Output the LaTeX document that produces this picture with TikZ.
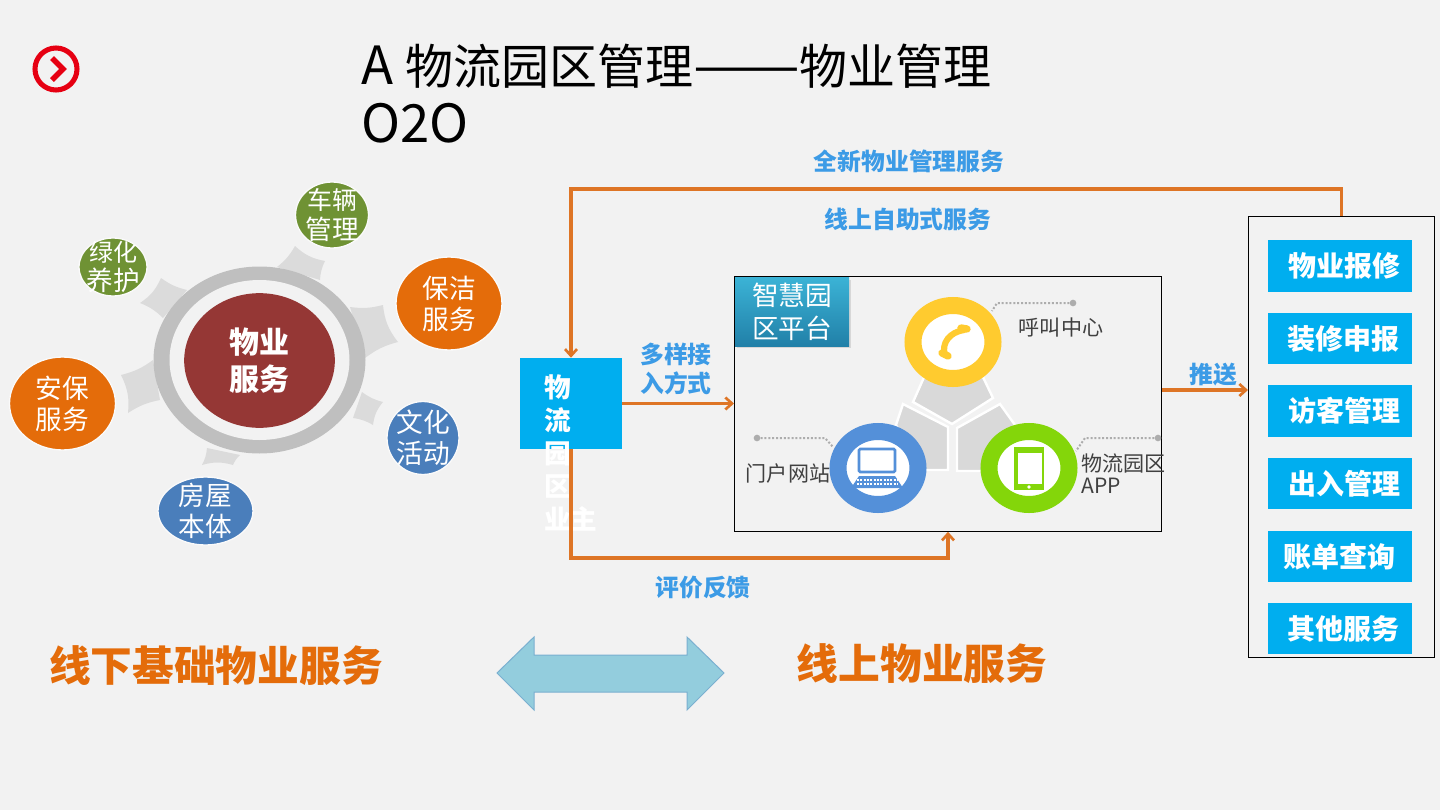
\documentclass[tikz,border=0pt]{standalone}
\usepackage{fontspec}
\setmainfont{Noto Sans CJK SC}
\usepackage{tikz}
\usetikzlibrary{calc}
\usetikzlibrary{shapes.geometric}
\usetikzlibrary{arrows.meta}
\definecolor{pagegray}{HTML}{F2F2F2}
\definecolor{flowline}{HTML}{DE7526}
\definecolor{flowtext}{HTML}{3C9BE6}
\definecolor{skyblue}{HTML}{00AEEF}
\definecolor{wine}{HTML}{953735}
\definecolor{leaf}{HTML}{6F9234}
\definecolor{pumpkin}{HTML}{E46C0A}
\definecolor{steel}{HTML}{4A7EBB}
\definecolor{callring}{HTML}{FFCB2F}
\definecolor{webring}{HTML}{5490D9}
\definecolor{appring}{HTML}{84D60A}
\definecolor{markred}{HTML}{E60012}
\definecolor{tagtop}{HTML}{3BB3D6}
\definecolor{tagbot}{HTML}{2180A8}
\definecolor{bandfill}{HTML}{93CDDD}
\definecolor{bandline}{HTML}{7AAFD0}
\newcommand\pxfont[1]{\fontsize{#1}{#1}\selectfont\baselineskip=1.24\baselineskip}
\newcommand\titlewide{\fontsize{39.5}{43.5}\selectfont}
\newcommand\spoke[4]{
    \fill[spoke] (#1) to[bend right=11] (#2) to[bend right=16] (#3) to[bend right=11] (#4) -- cycle;
}
\newcommand\bubble[7]{
    \node[bubbleshape, fill=#4, minimum width=#5*0.75pt, minimum height=#6*0.75pt] (#1) at (#2,#3) {};
    \node[bubbletext] (#1text) at (#1) {#7};
}
\newcommand\iconring[4]{
    \node[ringshape, draw=#4] (#1) at (#2,#3) {};
}
\begin{document}
\begin{tikzpicture}[
        x=0.75pt, y=-0.75pt,
        spoke/.style={fill=black!14},
        bubbleshape/.style={ellipse, inner sep=0pt, draw=white!60!pagegray, line width=1pt},
        bubbletext/.style={text=white, align=center, inner sep=0pt, font=\fontsize{20}{23.4}\selectfont},
        ringshape/.style={ellipse, fill=white, line width=12.75pt,
            minimum width=60pt, minimum height=54.75pt, inner sep=0pt},
        flow/.style={draw=flowline, line width=2.4pt, line join=miter, -{Straight Barb[length=5pt,width=9pt,line width=2pt]}},
        flowlabel/.style={text=flowtext, font=\pxfont{17.85}\bfseries, align=center, inner sep=0pt},
        frame/.style={draw=black, line width=0.75pt, fill=none, inner sep=0pt},
        svcitem/.style={fill=skyblue, minimum width=108pt, minimum height=38.5pt, inner sep=0pt},
        svctext/.style={text=white, font=\pxfont{21}\bfseries, inner sep=0pt},
        petal/.style={fill=black!15, draw=white, line width=1.8pt},
        leader/.style={draw=black!32, line width=1.5pt, dash pattern=on 1.5pt off 1.4pt},
        leaddot/.style={circle, fill=black!32, minimum size=5pt, inner sep=0pt},
        darklabel/.style={text=black!75, font=\pxfont{15.8}, align=left, inner sep=0pt},
        bigtext/.style={text=pumpkin, font=\pxfont{31.3}\bfseries, inner sep=0pt}
    ]
    \useasboundingbox (0,0) rectangle (1440,810);
    \fill[pagegray] (0,0) rectangle (1440,810);

    % title
    \draw[markred, line width=3.8pt] (56,69) ellipse (21 and 21);
    \draw[markred, line width=4pt] (52,58) -- (63,69) -- (52,80);
    \node[anchor=north west, inner sep=0pt, align=left, font=\fontsize{36}{43.5}\selectfont] (title) at (361,44)
        {{\titlewide A }物流园区管理\scalebox{1.21}[1]{\titlewide ——}物业管理\\{\titlewide O2O}};

    % offline wheel
    \spoke{277,267}{295,246}{325,261}{320,280}
    \spoke{350,307}{383,305}{398,342}{365,358}
    \spoke{362,392}{383,402}{373,425}{353,418}
    \spoke{240,455}{233,465}{202,465}{207,448}
    \spoke{160,400}{128,413}{121,375}{153,360}
    \spoke{163,318}{140,303}{161,278}{187,290}
    \fill[black!25] (259.5,360) ellipse (106 and 93.5);
    \fill[pagegray] (259.5,360) ellipse (90 and 80);
    \node[ellipse, fill=wine, minimum width=113pt, minimum height=101pt, inner sep=0pt,
        text=white, align=center, font=\pxfont{22.5}\bfseries] (core) at (259.5,360.5) {物业\\服务};
    \bubble{parking}{332}{215}{leaf}{73}{66}{\fontsize{18.7}{22.5}\selectfont 车辆\\[-1pt]管理}
    \bubble{greening}{113}{267}{leaf}{68}{58}{\fontsize{18}{22.5}\selectfont 绿化\\[-1pt]养护}
    \bubble{cleaning}{449}{303.5}{pumpkin}{106}{93}{保洁\\服务}
    \bubble{security}{62.5}{403.5}{pumpkin}{106}{93}{安保\\服务}
    \bubble{culture}{423}{438}{steel}{72}{73}{文化\\活动}
    \bubble{housing}{205.5}{511}{steel}{95}{68}{房屋\\本体}

    % online platform
    \node[frame, minimum width=320.25pt, minimum height=191.25pt] (platform) at (948,403.75) {};
    \node[frame, minimum width=139.5pt, minimum height=331pt] (svcbox) at (1341.5,437.25) {};
    \fill[black!40, opacity=0.3] (737,280) rectangle (851,348);
    \node[top color=tagtop, bottom color=tagbot, minimum width=85.5pt, minimum height=51.75pt,
        inner sep=0pt, text=white, align=center, font=\pxfont{20}] (tag) at (792,311.5) {智慧园\\区平台};

    \draw[petal] (913,402) -- (952,424) -- (993,398) -- (982,375) -- (925,375) -- cycle;
    \draw[petal] (903,404) -- (948,427) -- (948,470) -- (920,470) -- (896,425) -- cycle;
    \draw[petal] (1000,404) -- (957,428) -- (957,471) -- (985,471) -- (1015,425) -- cycle;

    \node[leaddot] (dotcall) at (1073,303) {};
    \node[leaddot] (dotweb) at (757,438) {};
    \node[leaddot] (dotapp) at (1158,438) {};
    \draw[leader] (dotcall) -- (997,303) -- (992,311);
    \draw[leader] (dotweb) -- (825,438) -- (833,447);
    \draw[leader] (dotapp) -- (1085,438) -- (1076,451);
    \iconring{ringcall}{953}{342}{callring}
    \iconring{ringweb}{878}{468}{webring}
    \iconring{ringapp}{1029}{468}{appring}

    % phone
    \draw[callring, line width=4.6pt, line cap=round] (964,330) .. controls (950,332) and (941,343) .. (945,355);
    \draw[callring, line width=5.5pt, line cap=round] (961,328) -- (967,329);
    \draw[callring, line width=5.5pt, line cap=round] (942,353) -- (948,356);
    % laptop
    \draw[webring, line width=2pt, rounded corners=1pt] (859,449) rectangle (895,472);
    \fill[webring] (859,476) -- (895,476) -- (903,488) -- (851,488) -- cycle;
    \foreach \y in {480,484}
    {
        \draw[white, line width=1pt, dash pattern=on 1.5pt off 1pt] (857,\y) -- (898,\y);
    }
    % tablet
    \fill[appring] (1014,447) rectangle (1044,490);
    \fill[white] (1018,453) rectangle (1042,484);
    \fill[white] (1029,487) circle (1.8);

    \node[darklabel] (lblcall) at (1061,328) {呼叫中心};
    \node[darklabel] (lblweb) at (788,474) {门户网站};
    \node[darklabel, anchor=north west, font=\fontsize{15.8}{16.5}\selectfont] (lblapp) at (1081,454) {物流园区\\APP};

    % owner
    \node[fill=skyblue, minimum width=76.5pt, minimum height=68.25pt, inner sep=0pt] (owner) at (571,403.5) {};
    \node[anchor=north west, inner sep=0pt, text=white, align=left,
        font=\fontsize{20}{24.8}\bfseries\selectfont] (ownertext) at (544,374) {物\\流\\园\\区\\业主};

    % service list
    \foreach \i/\yy/\xx/\lab in {1/266/1344/物业报修,2/338.5/1343/装修申报,3/411/1344/访客管理,4/483.5/1344/出入管理,5/556.5/1339/账单查询,6/628.5/1343/其他服务}
    {
        \node[svcitem] (svc\i) at (1340,\yy) {};
        \node[svctext] (svctext\i) at (\xx,\yy) {\lab};
    }

    % flows
    \coordinate (toprail) at (956,189);
    \coordinate (botrail) at (750,558);
    \coordinate (pushout) at (1162,390);
    \draw[flow] (svcbox.north) |- (toprail) -| (owner.north);
    \draw[flow] (owner.south) |- (botrail) -| (platform.south);
    \draw[flow] (owner.east) -- (platform.west |- owner.east);
    \draw[flow] (pushout) -- (svcbox.west |- pushout);

    \node[flowlabel] (lblnew) at (909,161) {全新物业管理服务};
    \node[flowlabel] (lblself) at (908,219) {线上自助式服务};
    \node[flowlabel] (lblaccess) at (676,369) {多样接\\入方式};
    \node[flowlabel] (lblpush) at (1213,375) {推送};
    \node[flowlabel] (lblreview) at (703,588) {评价反馈};

    % bottom band
    \node[bigtext] (lbloffline) at (216,666) {线下基础物业服务};
    \node[bigtext] (lblonline) at (922,664) {线上物业服务};
    \draw[draw=bandline, line width=0.75pt, fill=bandfill]
        (497,673) -- (534,637) -- (534,655) -- (687,655) -- (687,637) -- (724,673)
        -- (687,710) -- (687,692) -- (534,692) -- (534,710) -- cycle;
\end{tikzpicture}
\end{document}
